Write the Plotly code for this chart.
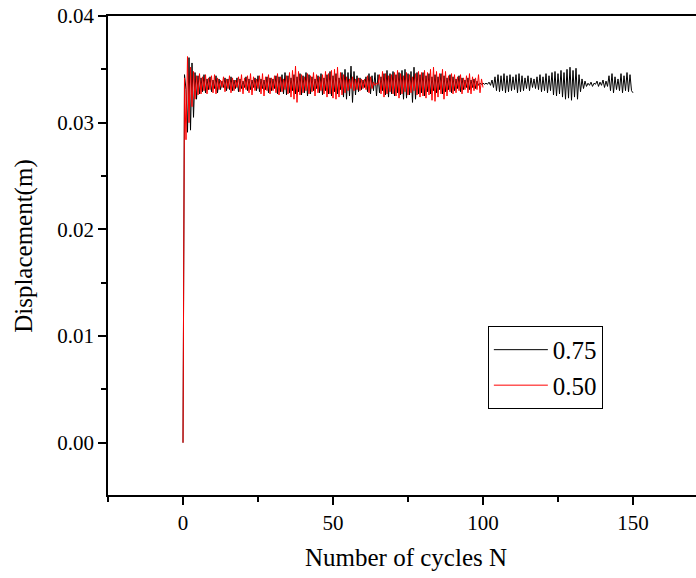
import plotly.graph_objects as go

# displacement (m) sampled every half cycle
step = 0.5

disp_075 = [
    0.0, 0.0345, 0.0331, 0.0291, 0.0361, 0.0293, 0.0356, 0.0305, 0.0347, 0.0322,
    0.0344, 0.0327, 0.0342, 0.0329, 0.0345, 0.0328, 0.0341, 0.0331, 0.0343, 0.0329,
    0.0340, 0.0332, 0.0344, 0.0328, 0.0341, 0.0331, 0.0339, 0.0333, 0.0342, 0.0330,
    0.0341, 0.0331, 0.0343, 0.0330, 0.0340, 0.0332, 0.0342, 0.0329, 0.0341, 0.0332,
    0.0339, 0.0333, 0.0343, 0.0330, 0.0341, 0.0331, 0.0340, 0.0333, 0.0342, 0.0330,
    0.0344, 0.0329, 0.0341, 0.0332, 0.0340, 0.0331, 0.0343, 0.0328, 0.0342, 0.0330,
    0.0341, 0.0332, 0.0344, 0.0327, 0.0343, 0.0329, 0.0345, 0.0327, 0.0347, 0.0326,
    0.0344, 0.0328, 0.0342, 0.0330, 0.0345, 0.0327, 0.0343, 0.0329, 0.0346, 0.0326,
    0.0344, 0.0328, 0.0347, 0.0325, 0.0345, 0.0327, 0.0343, 0.0330, 0.0341, 0.0332,
    0.0344, 0.0328, 0.0346, 0.0326, 0.0342, 0.0330, 0.0345, 0.0327, 0.0348, 0.0325,
    0.0344, 0.0329, 0.0346, 0.0327, 0.0342, 0.0331, 0.0347, 0.0324, 0.0350, 0.0322,
    0.0347, 0.0325, 0.0353, 0.0319, 0.0348, 0.0326, 0.0344, 0.0329, 0.0342, 0.0331,
    0.0340, 0.0333, 0.0343, 0.0329, 0.0346, 0.0327, 0.0344, 0.0330, 0.0347, 0.0325,
    0.0345, 0.0328, 0.0343, 0.0330, 0.0346, 0.0326, 0.0349, 0.0324, 0.0346, 0.0327,
    0.0348, 0.0325, 0.0345, 0.0328, 0.0347, 0.0326, 0.0349, 0.0322, 0.0350, 0.0323,
    0.0346, 0.0326, 0.0348, 0.0319, 0.0352, 0.0322, 0.0347, 0.0327, 0.0345, 0.0328,
    0.0347, 0.0325, 0.0344, 0.0329, 0.0346, 0.0327, 0.0343, 0.0330, 0.0345, 0.0328,
    0.0343, 0.0331, 0.0346, 0.0327, 0.0344, 0.0329, 0.0342, 0.0331, 0.0345, 0.0328,
    0.0343, 0.0330, 0.0341, 0.0332, 0.0344, 0.0329, 0.0342, 0.0331, 0.0340, 0.0333,
    0.0342, 0.0331, 0.0340, 0.0333, 0.0341, 0.0332, 0.0339, 0.0335, 0.0337, 0.0336,
    0.0337, 0.0336, 0.0337, 0.0336, 0.0338, 0.0335, 0.0340, 0.0333, 0.0343, 0.0330,
    0.0345, 0.0329, 0.0344, 0.0330, 0.0346, 0.0328, 0.0344, 0.0329, 0.0345, 0.0330,
    0.0343, 0.0331, 0.0345, 0.0328, 0.0346, 0.0329, 0.0344, 0.0330, 0.0342, 0.0332,
    0.0344, 0.0330, 0.0342, 0.0333, 0.0341, 0.0332, 0.0343, 0.0331, 0.0345, 0.0329,
    0.0343, 0.0330, 0.0346, 0.0328, 0.0344, 0.0330, 0.0347, 0.0326, 0.0348, 0.0325,
    0.0346, 0.0327, 0.0349, 0.0324, 0.0347, 0.0322, 0.0350, 0.0323, 0.0352, 0.0321,
    0.0349, 0.0324, 0.0351, 0.0322, 0.0345, 0.0329, 0.0341, 0.0332, 0.0339, 0.0334,
    0.0337, 0.0335, 0.0338, 0.0334, 0.0337, 0.0336, 0.0339, 0.0334, 0.0338, 0.0335,
    0.0340, 0.0333, 0.0339, 0.0334, 0.0344, 0.0330, 0.0346, 0.0328, 0.0343, 0.0331,
    0.0341, 0.0330, 0.0346, 0.0328, 0.0344, 0.0330, 0.0347, 0.0329, 0.0345, 0.0330,
    0.0328,
]

disp_050 = [
    0.0, 0.0342, 0.0284, 0.0362, 0.0300, 0.0352, 0.0315, 0.0348, 0.0322, 0.0344,
    0.0326, 0.0346, 0.0327, 0.0343, 0.0330, 0.0345, 0.0327, 0.0342, 0.0331, 0.0344,
    0.0328, 0.0345, 0.0327, 0.0342, 0.0331, 0.0340, 0.0333, 0.0343, 0.0329, 0.0341,
    0.0332, 0.0344, 0.0328, 0.0342, 0.0330, 0.0340, 0.0333, 0.0343, 0.0329, 0.0345,
    0.0327, 0.0342, 0.0331, 0.0344, 0.0328, 0.0346, 0.0326, 0.0343, 0.0330, 0.0341,
    0.0332, 0.0344, 0.0327, 0.0346, 0.0325, 0.0343, 0.0330, 0.0345, 0.0327, 0.0342,
    0.0330, 0.0344, 0.0328, 0.0346, 0.0326, 0.0343, 0.0329, 0.0341, 0.0331, 0.0344,
    0.0327, 0.0347, 0.0324, 0.0349, 0.0322, 0.0353, 0.0319, 0.0348, 0.0326, 0.0345,
    0.0328, 0.0343, 0.0330, 0.0346, 0.0327, 0.0344, 0.0329, 0.0347, 0.0325, 0.0345,
    0.0328, 0.0343, 0.0330, 0.0345, 0.0327, 0.0348, 0.0324, 0.0346, 0.0327, 0.0349,
    0.0323, 0.0350, 0.0322, 0.0352, 0.0324, 0.0347, 0.0326, 0.0345, 0.0328, 0.0343,
    0.0330, 0.0341, 0.0332, 0.0343, 0.0330, 0.0341, 0.0331, 0.0342, 0.0330, 0.0341,
    0.0332, 0.0341, 0.0331, 0.0344, 0.0328, 0.0343, 0.0332, 0.0338, 0.0335, 0.0337,
    0.0336, 0.0345, 0.0327, 0.0348, 0.0324, 0.0346, 0.0327, 0.0344, 0.0329, 0.0345,
    0.0327, 0.0347, 0.0325, 0.0349, 0.0323, 0.0346, 0.0327, 0.0344, 0.0329, 0.0347,
    0.0326, 0.0345, 0.0328, 0.0343, 0.0330, 0.0346, 0.0326, 0.0348, 0.0324, 0.0347,
    0.0325, 0.0349, 0.0323, 0.0347, 0.0326, 0.0350, 0.0321, 0.0352, 0.0320, 0.0348,
    0.0324, 0.0346, 0.0327, 0.0350, 0.0322, 0.0348, 0.0325, 0.0344, 0.0329, 0.0346,
    0.0327, 0.0345, 0.0328, 0.0343, 0.0330, 0.0345, 0.0327, 0.0342, 0.0331, 0.0344,
    0.0328, 0.0346, 0.0327, 0.0343, 0.0330, 0.0342, 0.0331, 0.0345, 0.0328, 0.0341,
    0.0333,
]

cycles_075 = [i * step for i in range(len(disp_075))]
cycles_050 = [i * step for i in range(len(disp_050))]

serif = "Liberation Serif"

fig = go.Figure()
fig.add_trace(go.Scatter(x=cycles_075, y=disp_075, mode="lines", name="0.75",
                         line=dict(color="black", width=1)))
fig.add_trace(go.Scatter(x=cycles_050, y=disp_050, mode="lines", name="0.50",
                         line=dict(color="red", width=1)))

fig.update_xaxes(
    range=[-25, 171], showgrid=False, zeroline=False,
    showline=True, linecolor="black", linewidth=1.5, mirror=True,
    ticks="outside", tickcolor="black", ticklen=8, tickwidth=1.5,
    tick0=0, dtick=50, ticklabeloverflow="allow",
    minor=dict(ticks="outside", dtick=25, tick0=0, ticklen=5, tickcolor="black", tickwidth=1.5),
    tickfont=dict(family=serif, size=21, color="black"),
)
fig.update_yaxes(
    range=[-0.0049, 0.04], showgrid=False, zeroline=False,
    showline=True, linecolor="black", linewidth=1.5,
    ticks="outside", tickcolor="black", ticklen=8, tickwidth=1.5,
    tick0=0, dtick=0.01, tickformat=".2f", ticklabeloverflow="allow",
    minor=dict(ticks="outside", dtick=0.005, tick0=0, ticklen=5, tickcolor="black", tickwidth=1.5),
    tickfont=dict(family=serif, size=21, color="black"),
)

fig.update_layout(
    width=696, height=578,
    margin=dict(l=108, r=0, t=16, b=83),
    plot_bgcolor="white", paper_bgcolor="white",
    font=dict(family=serif, color="black"),
    legend=dict(x=0.646, y=0.353, xanchor="left", yanchor="top",
                bordercolor="black", borderwidth=1, bgcolor="white", itemwidth=54,
                font=dict(family=serif, size=25, color="black")),
    annotations=[
        dict(text="Number of cycles N", xref="paper", yref="paper", x=0.507, y=-0.1315,
             xanchor="center", yanchor="middle", showarrow=False,
             font=dict(family=serif, size=25, color="black")),
        dict(text="Displacement(m)", xref="paper", yref="paper", x=-0.143, y=0.52,
             xanchor="center", yanchor="middle", textangle=-90, showarrow=False,
             font=dict(family=serif, size=25, color="black")),
    ],
)

# drop the default 8px body margin so the figure sits at the window corner
fig.write_html("out.html", config={"displayModeBar": False},
               post_script="document.body.style.margin = '0';")
